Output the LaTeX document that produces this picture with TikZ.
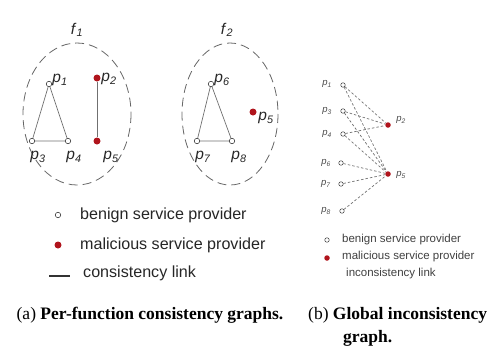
\documentclass[tikz,border=0pt]{standalone}
\usepackage{fontspec}
\setmainfont{Liberation Serif}
\setsansfont{Liberation Sans}
\usetikzlibrary{positioning}
\definecolor{malred}{HTML}{B0141C}
\definecolor{linkgray}{HTML}{707070}
\newcommand{\pl}[1]{\textit{p}\textsubscript{\textit{#1}}}

\begin{document}
\begin{tikzpicture}[x=1pt,y=-1pt,
    benign/.style={circle,draw=black!75,fill=white,inner sep=0pt,minimum size=5.5pt,line width=0.6pt},
    malicious/.style={circle,fill=malred,inner sep=0pt,minimum size=7pt},
    sbenign/.style={benign,minimum size=4.5pt,line width=0.5pt},
    smalicious/.style={malicious,minimum size=5.5pt},
    conlink/.style={draw=linkgray,line width=0.7pt},
    inclink/.style={draw=black!55,dash pattern=on 2.5pt off 2pt,line width=0.7pt},
    grp/.style={draw=black!60,dash pattern=on 9pt off 5pt,line width=0.8pt},
    biglbl/.style={font=\sffamily\fontsize{15.5}{17}\selectfont,inner sep=0pt,text=black!85},
    smalllbl/.style={font=\sffamily\fontsize{9.5}{11}\selectfont,inner sep=0pt,text=black!70},
    legend/.style={font=\sffamily\fontsize{16.1}{18}\selectfont,inner sep=0pt,anchor=west,text=black!85},
    slegend/.style={font=\sffamily\fontsize{11.5}{13}\selectfont,inner sep=0pt,anchor=west,text=black!75},
    caption/.style={font=\fontsize{17.5}{20}\selectfont,inner sep=0pt}]
  \useasboundingbox (0,0) rectangle (491,351);

  % per-function groups
  \draw[grp] (77,114) ellipse [x radius=54, y radius=71];
  \draw[grp] (230,114) ellipse [x radius=48, y radius=71];
  \node[biglbl] (f1) at (77,30) {\textit{f}\textsubscript{\textit{1}}};
  \node[biglbl] (f2) at (227,30) {\textit{f}\textsubscript{\textit{2}}};

  % f1 providers
  \node[benign] (a1) at (49,84) {};
  \node[benign] (a3) at (32,141) {};
  \node[benign] (a4) at (68,141) {};
  \node[malicious] (a2) at (97,78) {};
  \node[malicious] (a5) at (97,141) {};
  \draw[conlink] (a1) -- (a3) -- (a4) -- (a1);
  \draw[conlink] (a2) -- (a5);
  \node[biglbl] at (60,80) {\pl{1}};
  \node[biglbl] at (109,79) {\pl{2}};
  \node[biglbl] at (38,157) {\pl{3}};
  \node[biglbl] at (74,157) {\pl{4}};
  \node[biglbl] at (111,157) {\pl{5}};

  % f2 providers
  \node[benign] (b6) at (211,84) {};
  \node[benign] (b7) at (197,141) {};
  \node[benign] (b8) at (232,141) {};
  \node[malicious] (b5) at (253,112) {};
  \draw[conlink] (b6) -- (b7) -- (b8) -- (b6);
  \node[biglbl] at (222,80) {\pl{6}};
  \node[biglbl] at (203,157) {\pl{7}};
  \node[biglbl] at (239,157) {\pl{8}};
  \node[biglbl] at (266,118) {\pl{5}};

  % global inconsistency graph
  \node[sbenign] (g1) at (343,85) {};
  \node[sbenign] (g3) at (343,111) {};
  \node[sbenign] (g4) at (343,134) {};
  \node[sbenign] (g6) at (341,163) {};
  \node[sbenign] (g7) at (341,184) {};
  \node[sbenign] (g8) at (342,211) {};
  \node[smalicious] (g2) at (388,125) {};
  \node[smalicious] (g5) at (388,174) {};
  \foreach \i in {1,3,4}
    \draw[inclink] (g\i) -- (g2);
  \foreach \i in {1,3,4,6,7,8}
    \draw[inclink] (g\i) -- (g5);
  \node[smalllbl] at (327,84) {\pl{1}};
  \node[smalllbl] at (327,111) {\pl{3}};
  \node[smalllbl] at (327,134) {\pl{4}};
  \node[smalllbl] at (326,163) {\pl{6}};
  \node[smalllbl] at (326,184) {\pl{7}};
  \node[smalllbl] at (326,211) {\pl{8}};
  \node[smalllbl] at (401,120) {\pl{2}};
  \node[smalllbl] at (401,175) {\pl{5}};

  % legend (a)
  \node[benign] (la) at (58,215) {};
  \node[malicious] (lb) at (58,245) {};
  \coordinate (lc1) at (49,276);
  \coordinate (lc2) at (70,276);
  \draw[line width=1.2pt,black!80] (lc1) -- (lc2);
  \node[legend] at (80,215) {benign service provider};
  \node[legend] at (80,245) {malicious service provider};
  \node[legend] at (83,273) {consistency link};

  % legend (b)
  \node[sbenign] (ra) at (327,240) {};
  \node[smalicious] (rb) at (327,258) {};
  \node[slegend] at (342,240) {benign service provider};
  \node[slegend] at (342,257) {malicious service provider};
  \node[slegend] at (346,274) {inconsistency link};

  % captions
  \node[caption] (capa) at (150,315) {(a) \textbf{Per-function consistency graphs.}};
  \node[caption,anchor=west] (capb) at (308,315) {(b) \textbf{Global inconsistency}};
  \node[caption,anchor=west] (capb2) at (343,338) {\textbf{graph.}};
\end{tikzpicture}
\end{document}
